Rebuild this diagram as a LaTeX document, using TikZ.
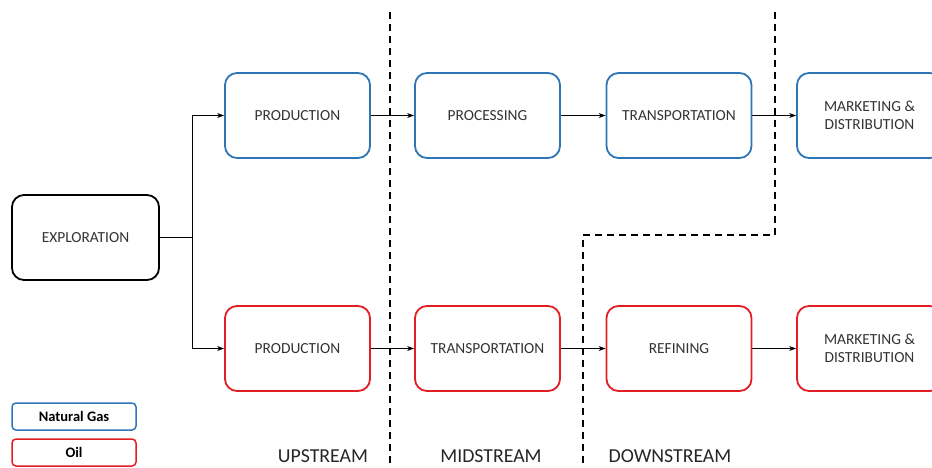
\documentclass[tikz,border=0pt]{standalone}
\usepackage{fontspec}
\setmainfont{Carlito}
\usetikzlibrary{arrows.meta}
\definecolor{gasblue}{RGB}{46,117,182}
\definecolor{oilred}{RGB}{226,30,36}
\tikzset{
  stage/.style={draw, line width=1.8pt, rounded corners=12pt, minimum width=145pt,
    minimum height=85pt, align=center, font=\fontsize{15.4}{18}\selectfont, text=black!80},
  gas/.style={stage, draw=gasblue},
  oil/.style={stage, draw=oilred},
  legendbox/.style={draw, line width=1.5pt, rounded corners=4pt, minimum width=124pt,
    minimum height=27pt, font=\bfseries\fontsize{14.5}{16}\selectfont},
  flow/.style={line width=0.9pt, -{Stealth[length=7pt,width=5pt]}},
  divider/.style={line width=2pt, dash pattern=on 7pt off 5pt},
  region/.style={font=\fontsize{19.8}{22}\selectfont, text=black!85}
}
\begin{document}
\begin{tikzpicture}[x=1pt, y=-1pt]
  \useasboundingbox (0,0) rectangle (932,467);
  \clip (0,0) rectangle (932,467);

  % stages
  \node[stage, minimum width=147pt] (expl) at (85.5,237.5) {EXPLORATION};
  \node[gas] (gprod) at (297.5,115.5) {PRODUCTION};
  \node[gas] (gproc) at (487.5,115.5) {PROCESSING};
  \node[gas] (gtrans) at (679,115.5) {TRANSPORTATION};
  \node[gas] (gmkt) at (869.5,115.5) {MARKETING \&\\DISTRIBUTION};
  \node[oil] (oprod) at (297.5,348.5) {PRODUCTION};
  \node[oil] (otrans) at (487.5,348.5) {TRANSPORTATION};
  \node[oil] (oref) at (679,348.5) {REFINING};
  \node[oil] (omkt) at (869.5,348.5) {MARKETING \&\\DISTRIBUTION};

  % connectors
  \coordinate (split) at (192,237.5);
  \draw[line width=0.9pt] (expl.east) -- (split);
  \draw[flow] (split) |- (gprod.west);
  \draw[flow] (split) |- (oprod.west);
  \draw[flow] (gprod) -- (gproc);
  \draw[flow] (gproc) -- (gtrans);
  \draw[flow] (gtrans) -- (gmkt);
  \draw[flow] (oprod) -- (otrans);
  \draw[flow] (otrans) -- (oref);
  \draw[flow] (oref) -- (omkt);

  % segment dividers
  \coordinate (d1top) at (390,12);
  \coordinate (d1bot) at (390,467);
  \coordinate (d2top) at (775,12);
  \coordinate (d2mid) at (775,235);
  \coordinate (d2turn) at (583,235);
  \coordinate (d2bot) at (583,467);
  \draw[divider] (d1top) -- (d1bot);
  \draw[divider] (d2top) -- (d2mid) -- (d2turn) -- (d2bot);

  % segment names
  \node[region] (up) at (323,456) {UPSTREAM};
  \node[region] (mid) at (491,456) {MIDSTREAM};
  \node[region] (down) at (670,456) {DOWNSTREAM};

  % legend
  \node[legendbox, draw=gasblue] (lgas) at (74,416.5) {Natural Gas};
  \node[legendbox, draw=oilred] (loil) at (74,452.5) {Oil};
\end{tikzpicture}
\end{document}
